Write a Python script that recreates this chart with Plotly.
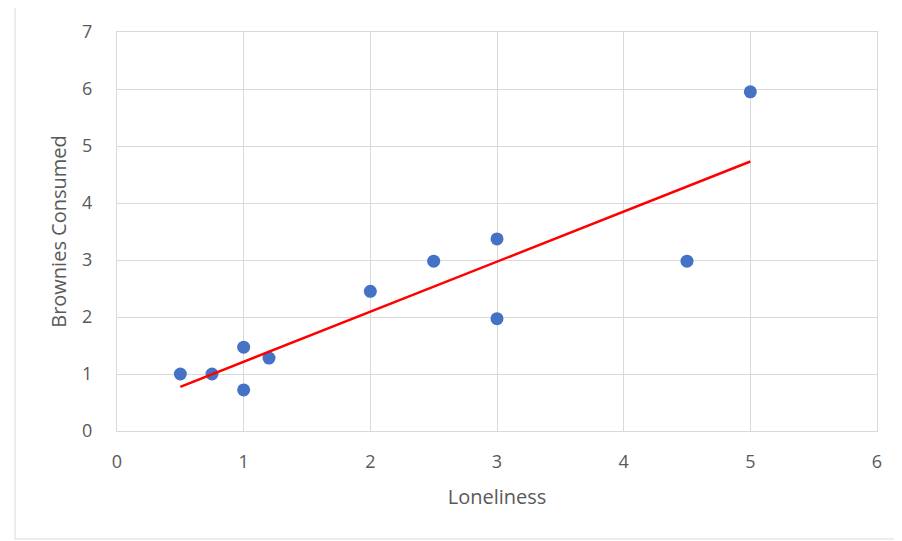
import numpy as np
import plotly.graph_objects as go

loneliness = [0.5, 0.75, 1.0, 1.0, 1.2, 2.0, 2.5, 3.0, 3.0, 4.5, 5.0]
brownies = [1.0, 1.0, 1.47, 0.72, 1.28, 2.45, 2.98, 3.37, 1.97, 2.98, 5.95]
x_ticks = [0, 1, 2, 3, 4, 5, 6]
y_ticks = [0, 1, 2, 3, 4, 5, 6, 7]

slope, intercept = np.polyfit(loneliness, brownies, 1)
tx = [min(loneliness), max(loneliness)]
ty = [slope * v + intercept for v in tx]

fig = go.Figure()
fig.add_trace(go.Scatter(x=loneliness, y=brownies, mode="markers",
                         marker=dict(color="#4472C4", size=13), showlegend=False))
fig.add_trace(go.Scatter(x=tx, y=ty, mode="lines",
                         line=dict(color="#FF0000", width=2.5), showlegend=False))

font = "'Open Sans', sans-serif"
grid = "#D9D9D9"
fig.update_layout(
    width=894, height=533,
    margin=dict(l=109, r=25, t=24, b=110),
    paper_bgcolor="white", plot_bgcolor="white",
    font=dict(family=font, color="#595959", size=18),
    xaxis=dict(range=[0, 6], tickvals=x_ticks, showgrid=True, gridcolor=grid,
               gridwidth=1, zeroline=False, showline=True, mirror=True,
               linecolor=grid, linewidth=1, ticks="",
               ticklabelstandoff=14,
               title=dict(text="Loneliness", font=dict(size=20, color="#595959"), standoff=18)),
    yaxis=dict(range=[0, 7], tickvals=y_ticks, showgrid=True, gridcolor=grid,
               gridwidth=1, zeroline=False, showline=True, mirror=True,
               linecolor=grid, linewidth=1, ticks="",
               ticklabelstandoff=20,
               title=dict(text="Brownies Consumed", font=dict(size=20, color="#595959"), standoff=10)),
    shapes=[dict(type="rect", xref="paper", yref="paper",
                 x0=-0.1342, x1=1.1, y0=-0.2707, y1=1.070,
                 line=dict(color="#D9D9D9", width=1), layer="below")],
)
fig.write_html("out.html")
